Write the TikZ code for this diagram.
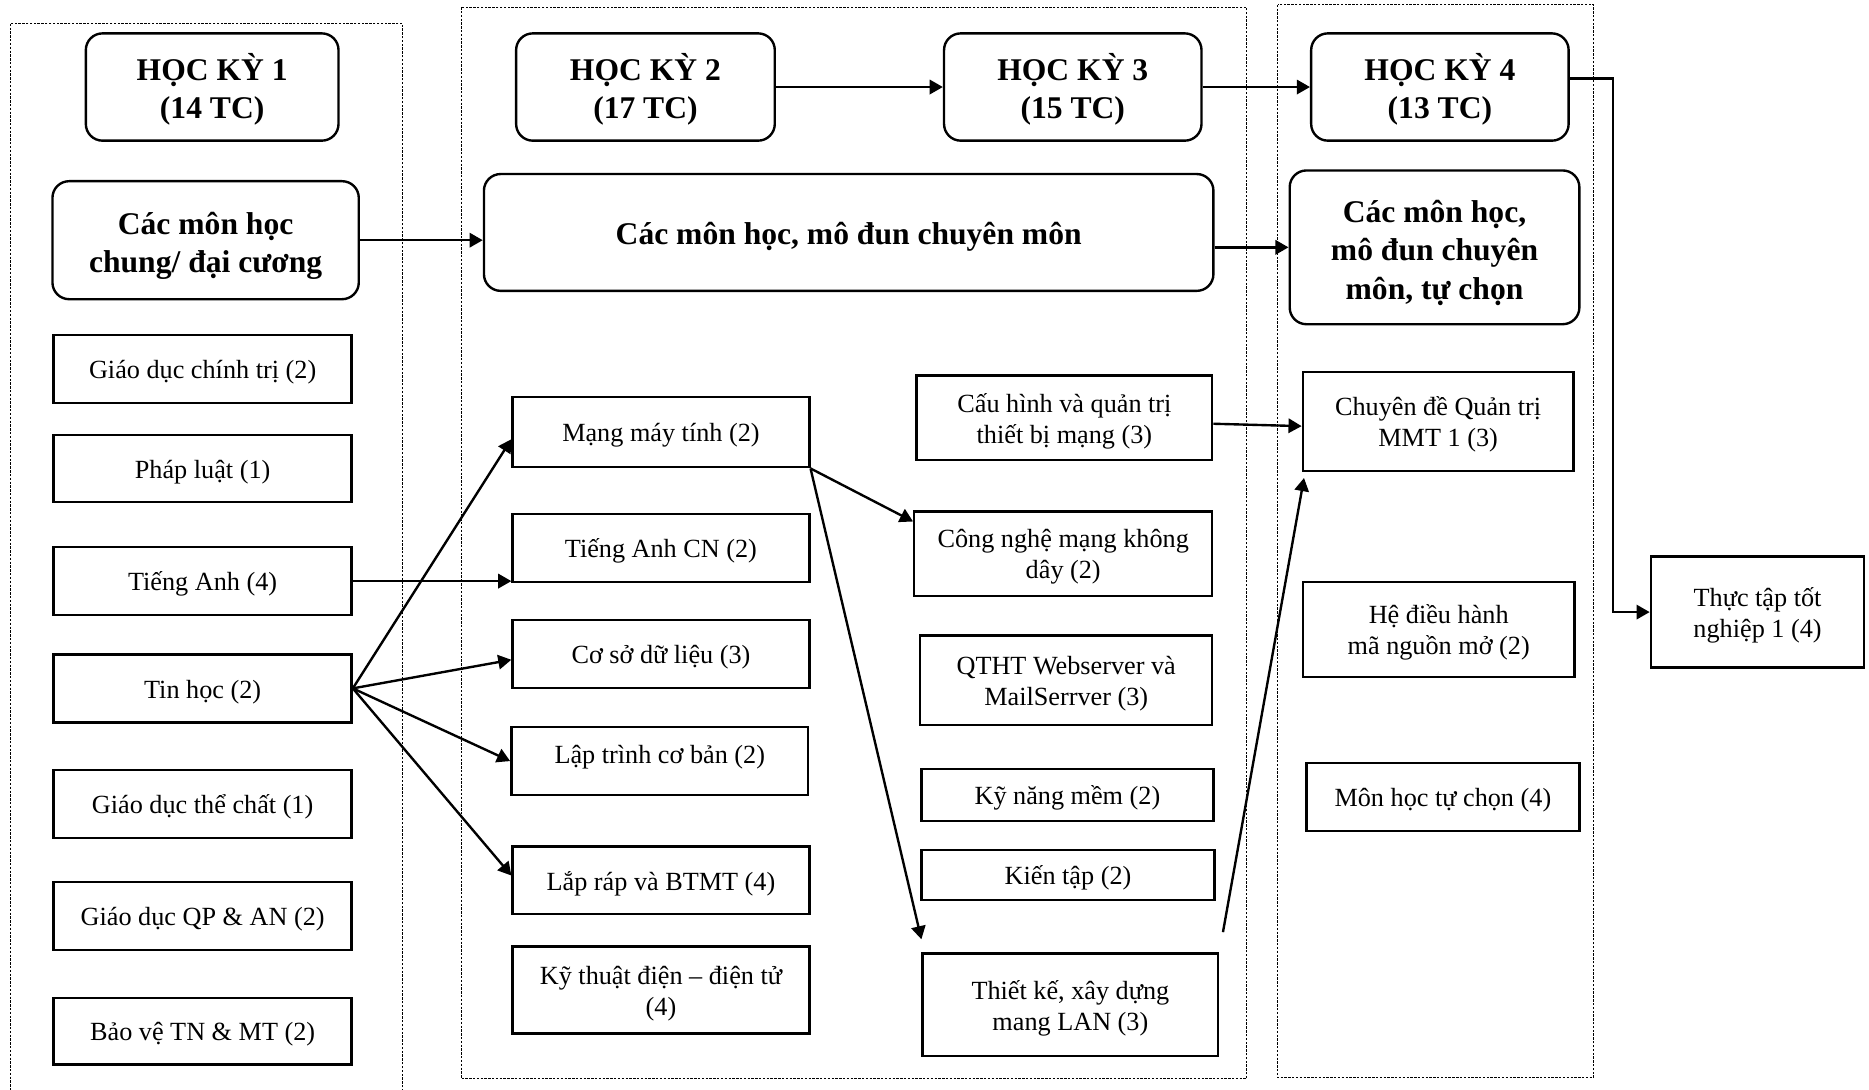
\documentclass[tikz,border=0pt]{standalone}
\usepackage{fontspec}
\setmainfont{Liberation Serif}
\usetikzlibrary{arrows.meta,calc}
\newcommand\tx[2][-3pt]{\raisebox{#1}[\height][\depth]{\begin{tabular}{@{}c@{}}#2\end{tabular}}}
\begin{document}
\begin{tikzpicture}[x=1pt,y=-1pt,
  box/.style={draw,line width=2pt,inner sep=0pt,font=\fontsize{22}{26}\selectfont},
  rbox/.style={draw,line width=2pt,rounded corners=14pt,inner sep=0pt,font=\fontsize{26.5}{32}\selectfont\bfseries},
  cont/.style={draw,line width=0.7pt,dash pattern=on 2pt off 1.2pt},
  arr/.style={line width=2pt,-{Triangle[length=11pt,width=12pt]}}
]
\useasboundingbox (0,0) rectangle (1568,914);
% containers
\draw[cont] (9,20) rectangle (338,940);
\draw[cont] (387,6) rectangle (1046,905);
\draw[cont] (1072,4) rectangle (1337,904);

% semester boxes
\node[rbox,minimum width=212pt,minimum height=90pt] (hk1) at (178,73) {\tx[-4pt]{HỌC KỲ 1\\(14 TC)}};
\node[rbox,minimum width=217pt,minimum height=90pt] (hk2) at (541.5,73) {\tx[-4pt]{HỌC KỲ 2\\(17 TC)}};
\node[rbox,minimum width=216pt,minimum height=90pt] (hk3) at (900,73) {\tx[-4pt]{HỌC KỲ 3\\(15 TC)}};
\node[rbox,minimum width=216pt,minimum height=90pt] (hk4) at (1208,73) {\tx[-4pt]{HỌC KỲ 4\\(13 TC)}};

% category boxes
\node[rbox,minimum width=257pt,minimum height=99pt] (cat1) at (172.5,201.5) {\tx[-5pt]{Các môn học\\chung/ đại cương}};
\node[rbox,minimum width=612pt,minimum height=98pt] (cat2) at (712,195) {\tx[-4pt]{Các môn học, mô đun chuyên môn}};
\node[rbox,minimum width=243pt,minimum height=129pt] (cat3) at (1203.5,207.5) {\tx[-5pt]{Các môn học,\\mô đun chuyên\\môn, tự chọn}};

% left column
\node[box,minimum width=250pt,minimum height=57pt] (gdct) at (170,309.5) {\tx{Giáo dục chính trị (2)}};
\node[box,minimum width=250pt,minimum height=56pt] (pl) at (170,393) {\tx{Pháp luật (1)}};
\node[box,minimum width=250pt,minimum height=57pt] (ta) at (170,487.5) {\tx{Tiếng Anh (4)}};
\node[box,minimum width=250pt,minimum height=57pt] (th) at (170,577.5) {\tx{Tin học (2)}};
\node[box,minimum width=250pt,minimum height=57pt] (gdtc) at (170,674.5) {\tx{Giáo dục thể chất (1)}};
\node[box,minimum width=250pt,minimum height=57pt] (qp) at (170,768.5) {\tx{Giáo dục QP \& AN (2)}};
\node[box,minimum width=250pt,minimum height=56pt] (bv) at (170,865) {\tx{Bảo vệ TN \& MT (2)}};

% middle-left column
\node[box,minimum width=249pt,minimum height=59pt] (mmt) at (554.5,362.5) {\tx{Mạng máy tính (2)}};
\node[box,minimum width=249pt,minimum height=57pt] (tacn) at (554.5,459.5) {\tx{Tiếng Anh CN (2)}};
\node[box,minimum width=249pt,minimum height=57pt] (csdl) at (554.5,548.5) {\tx{Cơ sở dữ liệu (3)}};
\node[box,minimum width=249pt,minimum height=57pt] (ltcb) at (553.5,638.5) {\tx[3.5pt]{Lập trình cơ bản (2)}};
\node[box,minimum width=249pt,minimum height=57pt] (lr) at (554.5,738.5) {\tx{Lắp ráp và BTMT (4)}};
\node[box,minimum width=249pt,minimum height=73pt] (ktd) at (554.5,830.5) {\tx{Kỹ thuật điện – điện tử\\(4)}};

% middle-right column
\node[box,minimum width=248pt,minimum height=71pt] (ch) at (893,350.5) {\tx{Cấu hình và quản trị\\thiết bị mạng (3)}};
\node[box,minimum width=250pt,minimum height=71pt] (cn) at (892,464.5) {\tx{Công nghệ mạng không\\dây (2)}};
\node[box,minimum width=245pt,minimum height=75pt] (qt) at (894.5,570.5) {\tx{QTHT Webserver và\\MailSerrver (3)}};
\node[box,minimum width=245pt,minimum height=44pt] (kn) at (895.5,667) {\tx{Kỹ năng mềm (2)}};
\node[box,minimum width=246pt,minimum height=42pt] (kt) at (896,734) {\tx{Kiến tập (2)}};
\node[box,minimum width=248pt,minimum height=86pt] (lan) at (898,843) {\tx{Thiết kế, xây dựng\\mang LAN (3)}};

% right column
\node[box,minimum width=227pt,minimum height=83pt] (cd) at (1206.5,353.5) {\tx{Chuyên đề Quản trị\\MMT 1 (3)}};
\node[box,minimum width=228pt,minimum height=80pt] (hdh) at (1207,528) {\tx{Hệ điều hành\\mã nguồn mở (2)}};
\node[box,minimum width=229pt,minimum height=57pt] (mh) at (1210.5,668.5) {\tx{Môn học tự chọn (4)}};
\node[box,minimum width=179pt,minimum height=93pt] (tt) at (1474.5,513.5) {\tx{Thực tập tốt\\nghiệp 1 (4)}};

% arrows
\draw[arr] (hk2.east) -- (hk3.west);
\draw[arr] (hk3.east) -- (hk4.west);
\draw[arr] ([yshift=7pt]hk4.east) -- ++(36,0) |- (tt.west);
\draw[arr] (cat1.east) -- (cat1.east -| cat2.west);
\draw[arr] (cat2.east |- cat3.west) -- (cat3.west);
\draw[arr] (ta.east) -- (ta.east -| tacn.west);
\draw[arr] (th.east) -- ([yshift=-6pt]mmt.west);
\draw[arr] (th.east) -- ([yshift=-5pt]csdl.west);
\draw[arr] (th.east) -- (ltcb.west);
\draw[arr] (th.east) -- ([yshift=4pt]lr.west);
\draw[arr] (mmt.south east) -- ([yshift=27pt]cn.west);
\draw[arr] (mmt.south east) -- ([yshift=11pt]lan.north west);
\draw[arr] ([xshift=3pt,yshift=17pt]lan.north east) -- ([xshift=2pt,yshift=-5pt]cd.south west);
\draw[arr] ([yshift=-5pt]ch.east) -- ([yshift=-4pt]cd.west);
\end{tikzpicture}
\end{document}
